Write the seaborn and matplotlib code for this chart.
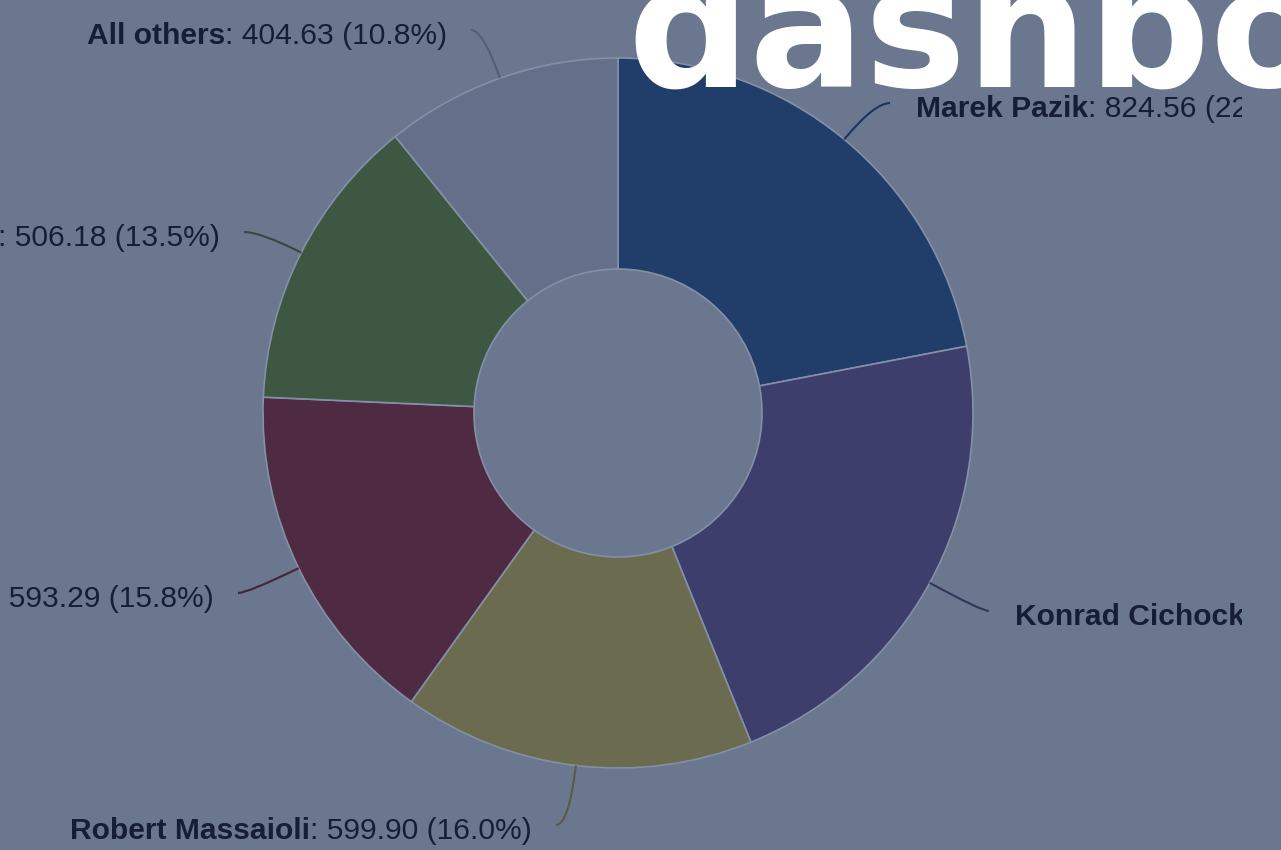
import numpy as np
import matplotlib
matplotlib.use("Agg")
import matplotlib.pyplot as plt
from matplotlib.path import Path
from matplotlib.patches import PathPatch
from matplotlib.transforms import Bbox, TransformedBbox
import seaborn as sns

# ---- data -------------------------------------------------------------
names = ["Marek Pazik", "Konrad Cichocki", "Robert Massaioli", None, None, "All others"]
values = [824.56, 821.44, 599.90, 593.29, 506.18, 404.63]
slice_colors = ["#213e6b", "#3d3e6b", "#6b6b50", "#4e2b43", "#3e5743", "#646f89"]
heading = "dashboard"

# ---- style ------------------------------------------------------------
W, H = 1281, 850
sns.set_theme(style="white")
plt.rcParams["font.family"] = ["Liberation Sans", "DejaVu Sans"]
palette = sns.color_palette(slice_colors)

BG = "#6b778f"
TEXT = "#161e35"
LABEL_PT = 21.6          # 30 px at 100 dpi

fig = plt.figure(figsize=(W / 100, H / 100), dpi=100, facecolor=BG)
ax = fig.add_axes([0, 0, 1, 1])
ax.set_facecolor(BG)

# ---- donut ------------------------------------------------------------
cx, cy_top = 618, 413
R, hole = 355, 144
ax.pie(values, colors=palette, startangle=90, counterclock=False,
       radius=R, center=(cx, H - cy_top),
       wedgeprops=dict(width=R - hole, edgecolor="#8490a7", linewidth=1.2))
ax.set_xlim(0, W)
ax.set_ylim(0, H)
ax.set_aspect("equal")
ax.axis("off")

# ---- data labels ------------------------------------------------------
total = float(np.sum(values))
renderer = fig.canvas.get_renderer()
clip = TransformedBbox(Bbox([[0, 0], [1242, H]]), ax.transData)

# per slice: alignment, anchor x, baseline (px from top)
layout = [
    ("left", 916, 117),
    ("left", 1015, 625),
    ("right", 532, 839),
    ("right", 214, 607),
    ("right", 220, 246),
    ("right", 447, 44),
]


def put(x, y_top, s, ha, weight):
    t = ax.text(x, H - y_top, s, ha=ha, va="baseline", fontsize=LABEL_PT,
                fontweight=weight, color=TEXT, zorder=5)
    t.set_clip_box(clip)
    t.set_clip_on(True)
    return t


def text_width(t):
    return t.get_window_extent(renderer).width


cum = 0.0
for name, v, col, (ha, lx, base) in zip(names, values, palette, layout):
    theta = np.deg2rad(360.0 * (cum + v / 2) / total)
    cum += v
    d = np.array([np.sin(theta), -np.cos(theta)])         # screen direction (y down)
    p0 = np.array([cx, cy_top]) + R * d
    gap = 24 if ha == "right" else -26
    p2 = np.array([lx + gap, base - 14])
    t = (p2[1] - p0[1]) / d[1]
    p1 = p0 + t * d
    verts = [(p[0], H - p[1]) for p in (p0, p1, p2)]
    path = Path(verts, [Path.MOVETO, Path.CURVE3, Path.CURVE3])
    dark = tuple(c * 0.85 for c in col)
    ax.add_patch(PathPatch(path, facecolor="none", edgecolor=dark, lw=1.5, zorder=4))

    value_txt = f": {v:.2f} ({100 * v / total:.1f}%)"
    if ha == "left":
        t1 = put(lx, base, name, "left", "bold")
        put(lx + text_width(t1), base, value_txt, "left", "normal")
    else:
        t2 = put(lx, base, value_txt, "right", "normal")
        if name:
            put(lx - text_width(t2), base, name, "right", "bold")

# ---- page heading on top ----------------------------------------------
ax.text(627, H - 87, heading, fontsize=123, fontweight="bold",
        family="DejaVu Sans", color="white", ha="left", va="baseline",
        zorder=10, clip_on=False)

fig.savefig("out.png", dpi=100, facecolor=BG)
